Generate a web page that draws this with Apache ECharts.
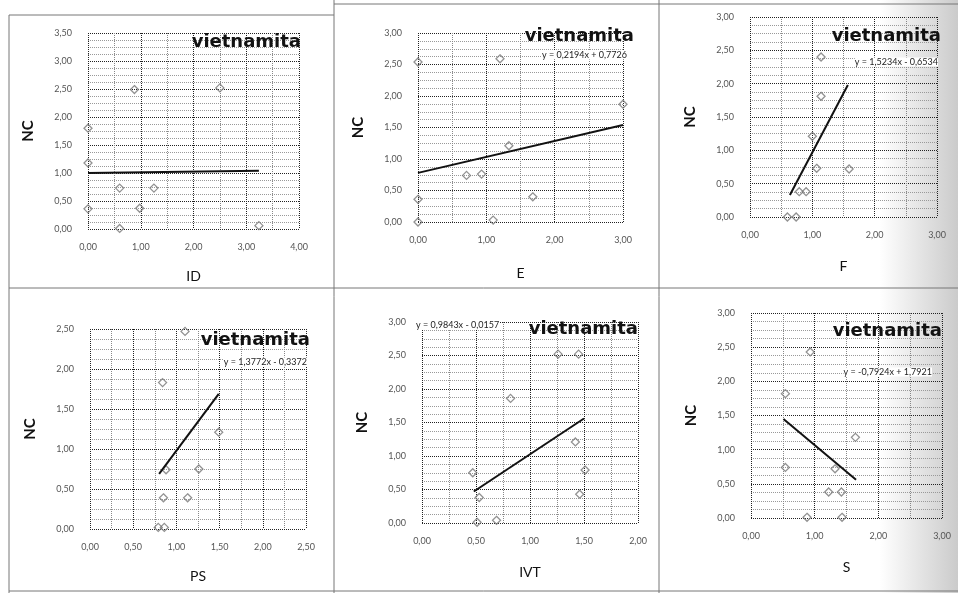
<!DOCTYPE html>
<html>
<head>
<meta charset="utf-8">
<script src="https://cdn.jsdelivr.net/npm/echarts@6/dist/echarts.min.js"></script>
<style>
  html, body { margin: 0; padding: 0; background: #fff; }
  #chart { width: 958px; height: 593px; }
</style>
</head>
<body>
<div id="chart"></div>
<script>
// datos: NC frente a cada variable (vietnamita)
var idX = [0.00, 0.00, 0.00, 0.60, 0.60, 0.88, 0.98, 1.25, 2.50, 3.24];
var idY = [1.80, 1.18, 0.36, 0.73, 0.01, 2.49, 0.37, 0.73, 2.52, 0.06];
var idTrend = [[0.00, 1.00], [3.24, 1.04]];

var eX = [0.00, 1.20, 3.00, 1.33, 0.71, 0.93, 0.00, 1.68, 0.00, 1.10];
var eY = [2.54, 2.59, 1.87, 1.21, 0.74, 0.76, 0.36, 0.40, 0.00, 0.03];
var eTrend = [[0.00, 0.78], [3.00, 1.54]];
var eEq = 'y = 0,2194x + 0,7726';

var fX = [1.14, 1.14, 1.00, 1.07, 1.59, 0.79, 0.90, 0.60, 0.74];
var fY = [2.40, 1.81, 1.21, 0.73, 0.72, 0.38, 0.38, 0.00, 0.00];
var fTrend = [[0.64, 0.33], [1.57, 1.98]];
var fEq = 'y = 1,5234x - 0,6534';

var psX = [1.10, 0.84, 1.49, 1.26, 0.85, 1.13, 0.79, 0.86, 0.88];
var psY = [2.47, 1.83, 1.21, 0.75, 0.39, 0.39, 0.02, 0.02, 0.74];
var psTrend = [[0.80, 0.69], [1.49, 1.69]];
var psEq = 'y = 1,3772x - 0,3372';

var ivtX = [1.26, 1.45, 0.82, 1.42, 0.47, 1.51, 0.53, 1.46, 0.51, 0.69];
var ivtY = [2.52, 2.52, 1.86, 1.21, 0.75, 0.79, 0.38, 0.43, 0.01, 0.04];
var ivtTrend = [[0.48, 0.47], [1.50, 1.56]];
var ivtEq = 'y = 0,9843x - 0,0157';

var sX = [0.93, 0.54, 1.64, 0.54, 1.32, 1.22, 1.42, 0.88, 1.43];
var sY = [2.43, 1.82, 1.18, 0.74, 0.72, 0.38, 0.38, 0.01, 0.01];
var sTrend = [[0.51, 1.45], [1.65, 0.56]];
var sEq = 'y = -0,7924x + 1,7921';

var xNames = ['ID', 'E', 'F', 'PS', 'IVT', 'S'];
var xMax = [4, 3, 3, 2.5, 2, 3];
var xStep = [1, 1, 1, 0.5, 0.5, 1];
var yMax = [3.5, 3, 3, 2.5, 3, 3];

var panels = [
  { x: idX, y: idY, trend: idTrend, eq: null },
  { x: eX, y: eY, trend: eTrend, eq: eEq },
  { x: fX, y: fY, trend: fTrend, eq: fEq },
  { x: psX, y: psY, trend: psTrend, eq: psEq },
  { x: ivtX, y: ivtY, trend: ivtTrend, eq: ivtEq },
  { x: sX, y: sY, trend: sTrend, eq: sEq }
];

// posiciones de cada zona de trazado (px)
var boxes = [
  { left: 88, top: 33, width: 211, height: 196 },
  { left: 418, top: 33, width: 205, height: 189 },
  { left: 750, top: 17, width: 187, height: 200 },
  { left: 90, top: 329, width: 216, height: 200 },
  { left: 422, top: 322, width: 216, height: 201 },
  { left: 751, top: 313, width: 191, height: 205 }
];
var titlePos = [[301, 42], [634, 36], [941, 36], [310, 340], [638, 329], [942, 331]];
var eqPos = [null, [627, 55], [938, 62], [307, 362], [416, 325], [932, 372]];
var eqAlign = [null, 'right', 'right', 'right', 'left', 'right'];
var xNameGap = [40, 44, 42, 40, 42, 42];

var FONT = 'Lato, "Open Sans", sans-serif';
var fmt = function (v) { return v.toFixed(2).replace('.', ','); };

var grids = [], xAxes = [], yAxes = [], series = [], graphics = [];

panels.forEach(function (p, i) {
  var b = boxes[i];
  grids.push({ left: b.left, top: b.top, width: b.width, height: b.height, containLabel: false });
  xAxes.push({
    gridIndex: i, type: 'value', min: 0, max: xMax[i], interval: xStep[i],
    name: xNames[i], nameLocation: 'middle', nameGap: xNameGap[i],
    nameTextStyle: { fontFamily: FONT, fontSize: 14, color: '#111' },
    axisLine: { show: false }, axisTick: { show: false },
    axisLabel: { formatter: fmt, fontFamily: FONT, fontSize: 9, color: '#555', margin: 14 },
    splitLine: { show: true, lineStyle: { type: 'dotted', color: '#222', width: 1 } },
    minorTick: { show: false, splitNumber: 2 },
    minorSplitLine: { show: true, lineStyle: { type: 'dotted', color: '#888', width: 1 } }
  });
  yAxes.push({
    gridIndex: i, type: 'value', min: 0, max: yMax[i], interval: 0.5,
    name: 'NC', nameLocation: 'middle', nameGap: 52, nameRotate: 90,
    nameTextStyle: { fontFamily: FONT, fontSize: 15, fontWeight: 'bold', color: '#111' },
    axisLine: { show: false }, axisTick: { show: false },
    axisLabel: { formatter: fmt, fontFamily: FONT, fontSize: 9, color: '#555', margin: 16 },
    splitLine: { show: true, lineStyle: { type: 'dotted', color: '#222', width: 1 } },
    minorTick: { show: false, splitNumber: 4 },
    minorSplitLine: { show: true, lineStyle: { type: 'dotted', color: '#999', width: 1 } }
  });
  series.push({
    type: 'scatter', xAxisIndex: i, yAxisIndex: i,
    data: p.x.map(function (v, k) { return [v, p.y[k]]; }),
    symbol: 'diamond', symbolSize: 8,
    itemStyle: { color: 'rgba(255,255,255,0)', borderColor: '#777', borderWidth: 1.3 },
    z: 3
  });
  series.push({
    type: 'line', xAxisIndex: i, yAxisIndex: i,
    data: p.trend, showSymbol: false, symbol: 'none',
    lineStyle: { color: '#111', width: 2 }, z: 4
  });
  graphics.push({
    type: 'text', x: titlePos[i][0], y: titlePos[i][1],
    style: { text: 'vietnamita', fontFamily: '"DejaVu Sans", sans-serif', fontSize: 18, fontWeight: 'bold',
             fill: '#111', align: 'right', verticalAlign: 'middle' },
    z: 10
  });
  if (p.eq) {
    graphics.push({
      type: 'text', x: eqPos[i][0], y: eqPos[i][1],
      style: { text: p.eq, fontFamily: FONT, fontSize: 9, fill: '#222', align: eqAlign[i], verticalAlign: 'middle',
               backgroundColor: '#fff' },
      z: 10
    });
  }
});

// marcos de las celdas escaneadas
var frame = { stroke: '#777', lineWidth: 1 };
[
  [9, 15, 9, 593], [9, 15, 334, 15], [334, 4, 958, 4],
  [334, 0, 334, 593], [659, 0, 659, 593],
  [9, 288, 958, 288], [9, 591, 958, 591]
].forEach(function (s) {
  graphics.push({ type: 'line', shape: { x1: s[0], y1: s[1], x2: s[2], y2: s[3] }, style: frame, z: 1 });
});

// sombra gris del escaneo en el borde derecho
graphics.push({
  type: 'rect', shape: { x: 880, y: 0, width: 78, height: 593 }, silent: true, z: 0,
  style: {
    fill: new echarts.graphic.LinearGradient(0, 0, 1, 0, [
      { offset: 0, color: 'rgba(160,160,160,0)' },
      { offset: 1, color: 'rgba(160,160,160,0.55)' }
    ])
  }
});

var chart = echarts.init(document.getElementById('chart'));
chart.setOption({
  backgroundColor: '#fff',
  animation: false,
  grid: grids,
  xAxis: xAxes,
  yAxis: yAxes,
  series: series,
  graphic: graphics
});
</script>
</body>
</html>
